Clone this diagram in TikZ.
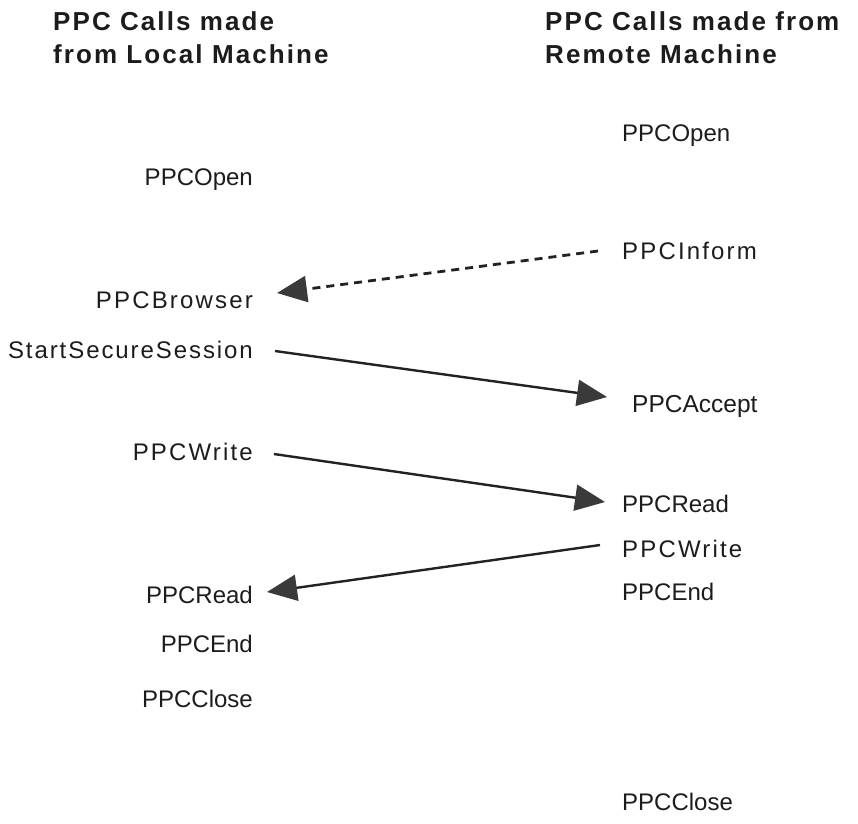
\documentclass[tikz,border=0pt]{standalone}
\usepackage{fontspec}
\setmainfont{Liberation Sans}
\newfontfamily\hdfont{Liberation Sans}[LetterSpace=8]
\newfontfamily\hdfontR{Liberation Sans}[LetterSpace=8]
\newfontfamily\spfont{Liberation Sans}[LetterSpace=9]
\newfontfamily\ssfont{Liberation Sans}[LetterSpace=8]
\usetikzlibrary{arrows.meta,calc}
\definecolor{txt}{HTML}{1C1C1C}
\definecolor{ln}{HTML}{222222}
\definecolor{arr}{HTML}{3A3A3A}
\tikzset{
  lcall/.style={anchor=base east, inner sep=0pt, text=txt, font=\fontsize{24}{28}\selectfont},
  rcall/.style={anchor=base west, inner sep=0pt, text=txt, font=\fontsize{24}{28}\selectfont},
  hdr/.style={anchor=north west, inner sep=0pt, text=txt, align=left},
  msg/.style={line width=2.4pt, draw=ln, -{Triangle[length=30pt,width=26pt,color=arr,fill=arr]}},
  dmsg/.style={msg, line width=2.8pt, dash pattern=on 8pt off 6pt}
}
\begin{document}
\begin{tikzpicture}[x=1pt,y=-1pt]
\useasboundingbox (0,0) rectangle (858,823);
\fill[white] (0,0) rectangle (858,823);
% headers
\node[hdr, font=\hdfont\bfseries\fontsize{26}{33}\selectfont] (hl) at (53,11) {PPC Calls made\\from Local Machine};
\node[hdr, font=\hdfontR\bfseries\fontsize{26}{33}\selectfont] (hr) at (545,11) {PPC Calls made from\\Remote Machine};
% left column
\node[lcall] (lopen) at (253,185) {PPCOpen};
\node[lcall, font=\spfont\fontsize{24}{28}\selectfont] (browser) at (253,308) {PPCBrowser};
\node[lcall, font=\ssfont\fontsize{24}{28}\selectfont] (sss) at (253,358) {StartSecureSession};
\node[lcall, font=\spfont\fontsize{24}{28}\selectfont] (lwrite) at (253,460) {PPCWrite};
\node[lcall] (lread) at (253,603) {PPCRead};
\node[lcall] (lend) at (253,652) {PPCEnd};
\node[lcall] (lclose) at (253,707) {PPCClose};
% right column
\node[rcall] (ropen) at (622,141) {PPCOpen};
\node[rcall, font=\spfont\fontsize{24}{28}\selectfont] (inform) at (622,259) {PPCInform};
\node[rcall, font=\fontsize{24.5}{28}\selectfont] (accept) at (632,412) {PPCAccept};
\node[rcall] (rread) at (622,512) {PPCRead};
\node[rcall, font=\spfont\fontsize{24}{28}\selectfont] (rwrite) at (622,557) {PPCWrite};
\node[rcall] (rend) at (622,600) {PPCEnd};
\node[rcall] (rclose) at (622,810) {PPCClose};
% connectors
\draw[dmsg] ($(inform.base west)+(-24,-8)$) -- ($(browser.base east)+(24,-15)$);
\draw[msg] ($(sss.base east)+(22,-7)$) -- ($(accept.base west)+(-25,-15)$);
\draw[msg] ($(lwrite.base east)+(21,-6)$) -- ($(rread.base west)+(-17,-10)$);
\draw[msg] ($(rwrite.base west)+(-22,-12)$) -- ($(lread.base east)+(14,-11)$);
\end{tikzpicture}
\end{document}
